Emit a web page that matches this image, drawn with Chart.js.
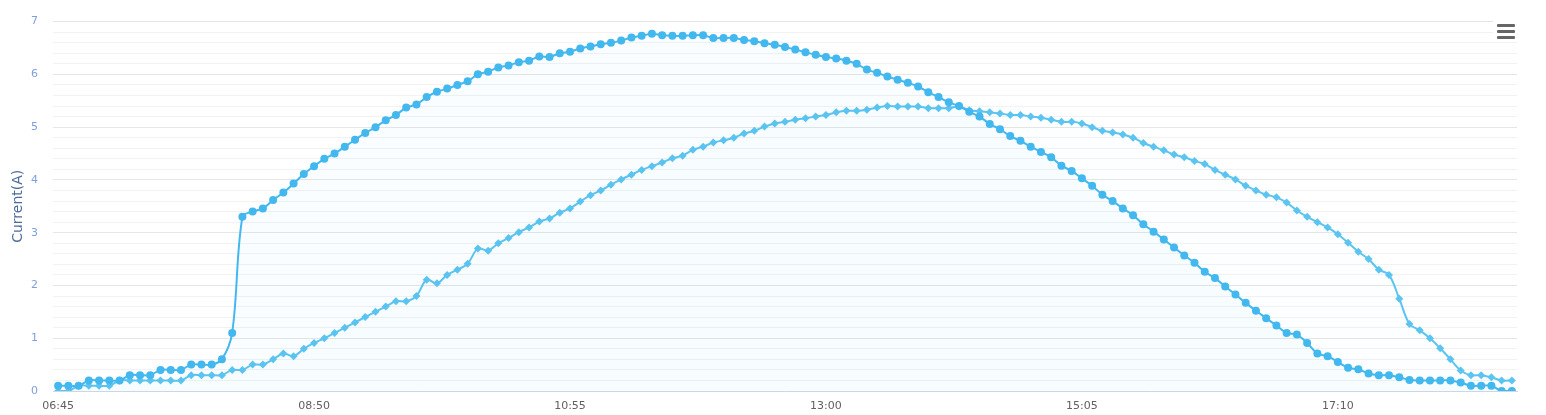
<!DOCTYPE html>
<html>
<head>
<meta charset="utf-8">
<script src="https://cdn.jsdelivr.net/npm/chart.js@4.4.1/dist/chart.umd.min.js"></script>
<style>
  html, body { margin: 0; padding: 0; background: #fff; }
  #wrap { position: relative; width: 1546px; height: 415px; }
  #menu { position: absolute; left: 1493px; top: 20px; width: 26px; height: 22px; background: #fff; }
  #menu span { position: absolute; left: 4px; width: 18px; height: 3px; background: #666; border-radius: 1px; }
</style>
</head>
<body>
<div id="wrap">
  <canvas id="chart" width="1546" height="415"></canvas>
  <div id="menu"><span style="top:4px"></span><span style="top:10px"></span><span style="top:16px"></span></div>
</div>
<script>
// --- Data (5 minute samples) ---
const timeLabels = (
  '06:45 06:50 06:55 ' +
  '07:00 07:05 07:10 07:15 07:20 07:25 07:30 07:35 07:40 07:45 07:50 07:55 ' +
  '08:00 08:05 08:10 08:15 08:20 08:25 08:30 08:35 08:40 08:45 08:50 08:55 ' +
  '09:00 09:05 09:10 09:15 09:20 09:25 09:30 09:35 09:40 09:45 09:50 09:55 ' +
  '10:00 10:05 10:10 10:15 10:20 10:25 10:30 10:35 10:40 10:45 10:50 10:55 ' +
  '11:00 11:05 11:10 11:15 11:20 11:25 11:30 11:35 11:40 11:45 11:50 11:55 ' +
  '12:00 12:05 12:10 12:15 12:20 12:25 12:30 12:35 12:40 12:45 12:50 12:55 ' +
  '13:00 13:05 13:10 13:15 13:20 13:25 13:30 13:35 13:40 13:45 13:50 13:55 ' +
  '14:00 14:05 14:10 14:15 14:20 14:25 14:30 14:35 14:40 14:45 14:50 14:55 ' +
  '15:00 15:05 15:10 15:15 15:20 15:25 15:30 15:35 15:40 15:45 15:50 15:55 ' +
  '16:00 16:05 16:10 16:15 16:20 16:25 16:30 16:35 16:40 16:45 16:50 16:55 ' +
  '17:00 17:05 17:10 17:15 17:20 17:25 17:30 17:35 17:40 17:45 17:50 17:55 ' +
  '18:00 18:05 18:10 18:15 18:20 18:25 18:30 18:35'
).split(' ');

const currentA = [
  0.1, 0.1, 0.1, 0.2, 0.2, 0.2, 0.2, 0.3, 0.3, 0.3,
  0.4, 0.4, 0.4, 0.5, 0.5, 0.5, 0.6, 1.1, 3.3, 3.4,
  3.46, 3.62, 3.76, 3.93, 4.11, 4.26, 4.4, 4.5, 4.63, 4.76,
  4.89, 5.0, 5.13, 5.23, 5.37, 5.43, 5.57, 5.67, 5.73, 5.8,
  5.87, 6.0, 6.05, 6.13, 6.17, 6.23, 6.26, 6.34, 6.33, 6.4,
  6.43, 6.49, 6.53, 6.57, 6.6, 6.64, 6.7, 6.73, 6.77, 6.74,
  6.73, 6.73, 6.74, 6.74, 6.69, 6.69, 6.69, 6.65, 6.63, 6.59,
  6.56, 6.52, 6.47, 6.42, 6.37, 6.33, 6.3, 6.26, 6.2, 6.09,
  6.03, 5.96, 5.9, 5.84, 5.77, 5.66, 5.57, 5.47, 5.4, 5.29,
  5.2, 5.06, 4.96, 4.83, 4.74, 4.63, 4.53, 4.43, 4.27, 4.17,
  4.03, 3.89, 3.72, 3.6, 3.46, 3.33, 3.16, 3.02, 2.87, 2.72,
  2.57, 2.43, 2.26, 2.14, 1.98, 1.83, 1.67, 1.52, 1.38, 1.24,
  1.1, 1.07, 0.91, 0.71, 0.66, 0.55, 0.44, 0.41, 0.33, 0.3,
  0.3, 0.26, 0.21, 0.2, 0.2, 0.2, 0.2, 0.16, 0.1, 0.1,
  0.1, 0, 0
];

const currentB = [
  0, 0, 0.1, 0.1, 0.1, 0.1, 0.2, 0.2, 0.2, 0.2,
  0.2, 0.2, 0.2, 0.3, 0.3, 0.3, 0.3, 0.4, 0.4, 0.5,
  0.5, 0.6, 0.71, 0.66, 0.8, 0.91, 1.0, 1.1, 1.2, 1.3,
  1.4, 1.5, 1.6, 1.7, 1.7, 1.8, 2.11, 2.04, 2.2, 2.3,
  2.41, 2.7, 2.66, 2.8, 2.9, 3.01, 3.1, 3.21, 3.27, 3.38,
  3.46, 3.59, 3.71, 3.8, 3.91, 4.01, 4.1, 4.19, 4.26, 4.33,
  4.41, 4.46, 4.57, 4.63, 4.71, 4.75, 4.8, 4.88, 4.93, 5.01,
  5.07, 5.1, 5.14, 5.17, 5.2, 5.23, 5.28, 5.31, 5.31, 5.33,
  5.37, 5.4, 5.39, 5.39, 5.39, 5.36, 5.36, 5.36, 5.39, 5.32,
  5.3, 5.28, 5.26, 5.23, 5.23, 5.2, 5.18, 5.14, 5.1, 5.1,
  5.07, 5.0, 4.93, 4.9, 4.86, 4.8, 4.7, 4.63, 4.56, 4.48,
  4.43, 4.36, 4.3, 4.19, 4.1, 4.01, 3.89, 3.8, 3.72, 3.67,
  3.57, 3.42, 3.3, 3.2, 3.1, 2.97, 2.81, 2.64, 2.5, 2.3,
  2.2, 1.75, 1.27, 1.15, 1.0, 0.81, 0.6, 0.39, 0.3, 0.3,
  0.26, 0.2, 0.2
];

const labelEvery = 25;       // one x label every 125 minutes
const yMax = 7;
const yMinorStep = 0.2;

const colorA = '#42b8ef';
const colorB = '#5bc4f0';
const font = 'DejaVu Sans, sans-serif';

const isWhole = v => Math.abs(v - Math.round(v)) < 1e-6;

new Chart(document.getElementById('chart'), {
  type: 'line',
  data: {
    labels: timeLabels,
    datasets: [
      {
        data: currentA,
        borderColor: colorA,
        backgroundColor: 'rgba(66,184,239,0.028)',
        pointBackgroundColor: colorA,
        pointBorderWidth: 0,
        pointRadius: 4,
        pointStyle: 'circle',
        borderWidth: 2,
        tension: 0.35,
        fill: 'origin'
      },
      {
        data: currentB,
        borderColor: colorB,
        backgroundColor: 'rgba(91,196,240,0.02)',
        pointBackgroundColor: colorB,
        pointBorderWidth: 0,
        pointRadius: 4,
        pointStyle: 'rectRot',
        borderWidth: 2,
        tension: 0.35,
        fill: 'origin'
      }
    ]
  },
  options: {
    responsive: false,
    animation: false,
    layout: { padding: { top: 18, right: 29, left: 0, bottom: 0 } },
    plugins: {
      legend: { display: false },
      tooltip: { enabled: false }
    },
    scales: {
      x: {
        offset: true,
        grid: { display: false, drawTicks: false },
        border: { color: '#ccd6eb', width: 1 },
        ticks: {
          autoSkip: false,
          maxRotation: 0,
          padding: 9,
          color: '#606060',
          font: { family: font, size: 11 },
          callback: (v, i) => i % labelEvery === 0 ? timeLabels[i] : ''
        },
        afterFit: scale => { scale.height = 24; }
      },
      y: {
        min: 0,
        max: yMax,
        border: { display: false },
        grid: {
          drawTicks: false,
          color: ctx => isWhole(ctx.tick.value) ? '#e6e6e6' : '#f2f2f2'
        },
        ticks: {
          stepSize: yMinorStep,
          autoSkip: false,
          padding: 15,
          color: '#7f9ee0',
          font: { family: font, size: 11 },
          callback: v => isWhole(v) ? String(Math.round(v)) : ''
        },
        title: {
          display: true,
          text: 'Current(A)',
          color: '#4d6c99',
          padding: { top: 10, bottom: 0 },
          font: { family: font, size: 14 }
        },
        afterFit: scale => { scale.width = 53; }
      }
    }
  }
});
</script>
</body>
</html>
